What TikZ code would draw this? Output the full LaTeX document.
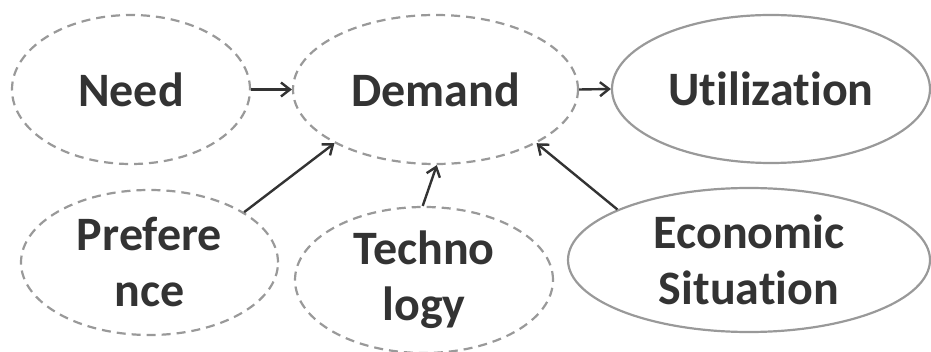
\documentclass[tikz,border=0pt]{standalone}
\usepackage{fontspec}
\setmainfont{Carlito}
\usetikzlibrary{shapes.geometric,arrows.meta}
\definecolor{linegray}{HTML}{999999}
\definecolor{textgray}{HTML}{333333}
\begin{document}
\begin{tikzpicture}[x=1pt,y=-1pt,
  box/.style={ellipse, inner sep=0pt, draw=linegray, line width=2.2pt, text=textgray,
    font=\bfseries\fontsize{48}{56}\selectfont, align=center},
  dbox/.style={box, dash pattern=on 9pt off 6pt},
  conn/.style={-{Straight Barb[length=9pt,width=14pt]}, line width=2.4pt, draw=textgray}]
\useasboundingbox (0,0) rectangle (931,352);
\node[dbox, minimum width=238pt, minimum height=149pt] (need) at (131,89.5) {Need};
\node[dbox, minimum width=285pt, minimum height=149pt] (dem) at (435.5,89.5) {Demand};
\node[box, minimum width=318pt, minimum height=148pt] (util) at (771,89) {Ut\kern0pt ilizat\kern0pt ion};
\node[dbox, minimum width=257pt, minimum height=145pt] (pref) at (149.5,262.5) {Prefere\\nce};
\node[dbox, minimum width=258pt, minimum height=146pt] (tech) at (424,280) {Techno\\logy};
\node[box, minimum width=362pt, minimum height=144pt] (econ) at (749,260) {Economic\\Situat\kern0pt ion};
\draw[conn] (need.east) -- (dem.west);
\draw[conn] (dem.east) -- (util.west);
\draw[conn] (pref.28.6) -- (dem.208);
\draw[conn] (tech.91) -- (dem.271);
\draw[conn] (econ.159.3) -- (dem.332.7);
\end{tikzpicture}
\end{document}
